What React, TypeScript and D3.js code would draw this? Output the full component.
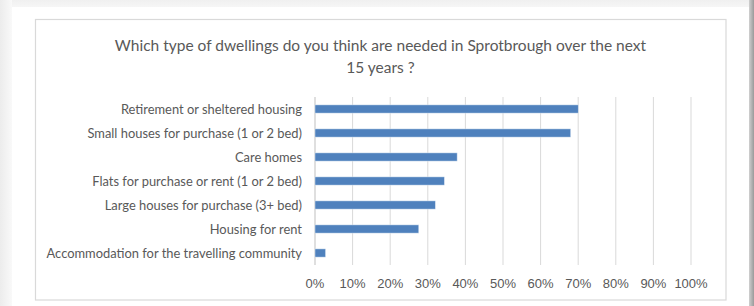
import React from "react";
import * as d3 from "d3";

const categories = [
  "Retirement or sheltered housing",
  "Small houses for purchase (1 or 2 bed)",
  "Care homes",
  "Flats for purchase or rent (1 or 2 bed)",
  "Large houses for purchase (3+ bed)",
  "Housing for rent",
  "Accommodation for the travelling community",
];
const values = [0.70, 0.68, 0.378, 0.344, 0.32, 0.276, 0.028];
const ticks = [0, 0.1, 0.2, 0.3, 0.4, 0.5, 0.6, 0.7, 0.8, 0.9, 1.0];
const titleLines = [
  "Which type of dwellings do you think are needed in Sprotbrough over the next",
  "15 years ?",
];

export default function App() {
  const W = 754, H = 306;
  const x = d3.scaleLinear().domain([0, 1]).range([315, 691]);
  const y = d3.scaleBand<string>().domain(categories).range([97, 265]).paddingInner(0.66).paddingOuter(0.33);
  const fmt = d3.format(".0%");
  return (
    <svg width={W} height={H} style={{ position: "fixed", left: 0, top: 0 }}>
      <defs>
        <linearGradient id="lg" x1="0" x2="1" y1="0" y2="0">
          <stop offset="0" stopColor="#ececec" />
          <stop offset="1" stopColor="#f9f9f9" />
        </linearGradient>
        <linearGradient id="rg" x1="0" x2="1" y1="0" y2="0">
          <stop offset="0" stopColor="#d0d0d0" />
          <stop offset="1" stopColor="#9a9a9a" />
        </linearGradient>
        <linearGradient id="tg" x1="0" x2="0" y1="0" y2="1">
          <stop offset="0" stopColor="#f0f0f0" />
          <stop offset="1" stopColor="#f7f7f7" />
        </linearGradient>
      </defs>
      <rect x={0} y={0} width={W} height={H} fill="#f5f5f5" />
      <rect x={0} y={0} width={W} height={8} fill="url(#tg)" />
      <rect x={0} y={0} width={12} height={H} fill="url(#lg)" />
      <rect x={749} y={0} width={5} height={H} fill="url(#rg)" />
      <rect x={12} y={7} width={737} height={H - 7} fill="#ffffff" />
      <rect x={35.5} y={19.5} width={690.5} height={280.5} fill="#ffffff" stroke="#d9d9d9" strokeWidth={1.2} />
      {titleLines.map((t, i) => (
        <text key={i} x={380.5} y={50.5 + i * 22} textAnchor="middle" fontFamily="Lato, 'Open Sans', sans-serif" fontSize={15.5} fill="#595959">{t}</text>
      ))}
      {ticks.map((t) => (
        <line key={t} x1={x(t)} x2={x(t)} y1={97} y2={265} stroke={t === 0 ? "#bfbfbf" : "#d9d9d9"} strokeWidth={1} />
      ))}
      {categories.map((c, i) => (
        <g key={c}>
          <rect x={x(0)} y={y(c)!} width={x(values[i]) - x(0)} height={y.bandwidth()} fill="#4f81bd" stroke="#dce6f2" strokeWidth={0.5} />
          <text x={302} y={y(c)! + y.bandwidth() / 2} dy="0.35em" textAnchor="end" fontFamily="Lato, 'Open Sans', sans-serif" fontSize={12.9} fill="#595959">{c}</text>
        </g>
      ))}
      {ticks.map((t) => (
        <text key={"l" + t} x={x(t)} y={283} dy="0.35em" textAnchor="middle" fontFamily="'Liberation Sans', Arial, sans-serif" fontSize={13} fill="#595959">{fmt(t)}</text>
      ))}
    </svg>
  );
}
